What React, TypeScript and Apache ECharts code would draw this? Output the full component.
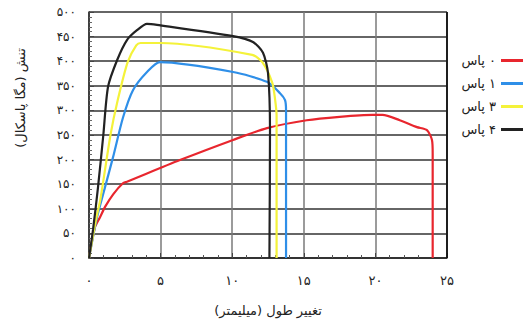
import React, { useEffect, useRef } from "react";
import * as echarts from "echarts";

const seriesNames = ["۰ پاس", "۱ پاس", "۳ پاس", "۴ پاس"];
const seriesColors = ["#e8262e", "#2f8fe8", "#f4f23a", "#222222"];

const pass0X = [0, 0.42, 0.77, 1.12, 1.7, 2.37, 2.65, 6.35, 10.06, 12.43, 15.2, 17.5, 19.8, 20.5, 21.7, 22.9, 23.6, 23.95, 24.0, 24.0];
const pass0Y = [0, 63, 83, 104, 130, 152, 155, 199, 240, 264, 280, 287, 291, 291, 280, 266, 260, 240, 213, 0];

const pass1X = [0, 0.56, 1.12, 1.68, 2.37, 3.07, 4.05, 4.96, 10.06, 12.43, 13.34, 13.69, 13.76, 13.76];
const pass1Y = [0, 83, 144, 205, 285, 341, 378, 398, 378, 358, 335, 321, 300, 0];

const pass3X = [0, 0.5, 0.8, 1.5, 2.0, 2.7, 3.3, 3.6, 5.0, 11.4, 12.1, 12.8, 13.0, 13.1, 13.1];
const pass3Y = [0, 80, 120, 250, 320, 398, 432, 437, 437, 413, 398, 356, 321, 290, 0];

const pass4X = [0, 0.28, 0.63, 1.0, 1.33, 1.96, 2.65, 3.35, 4.05, 4.75, 10.06, 11.45, 12.15, 12.5, 12.64, 12.6];
const pass4Y = [0, 57, 144, 250, 348, 402, 443, 463, 476, 474, 451, 439, 417, 376, 260, 0];

const xTicks = [0, 5, 10, 15, 20, 25];
const yTicks = [0, 50, 100, 150, 200, 250, 300, 350, 400, 450, 500];

const xAxisTitle = "تغییر طول (میلیمتر)";
const yAxisTitle = "تنش (مگا پاسکال)";

const FA_DIGITS = "۰۱۲۳۴۵۶۷۸۹";
const toFa = (v: number) => String(v).replace(/[0-9]/g, (d) => FA_DIGITS[Number(d)]);
const rtl = (s: string) => "\u200F" + s + "\u200F";

const FONT = "DejaVu Sans";

export default function App() {
  const ref = useRef<HTMLDivElement>(null);
  useEffect(() => {
    if (!ref.current) return;
    const chart = echarts.init(ref.current, null, { renderer: "svg" });
    const xs = [pass0X, pass1X, pass3X, pass4X];
    const ys = [pass0Y, pass1Y, pass3Y, pass4Y];
    const xMax = xTicks[xTicks.length - 1];
    const series: any[] = seriesNames.map((name, i) => ({
      name,
      type: "line",
      data: xs[i].map((x, j) => [x, ys[i][j]]),
      showSymbol: false,
      symbol: "none",
      smooth: 0.25,
      lineStyle: { color: seriesColors[i], width: 2.2 },
      itemStyle: { color: seriesColors[i] },
      z: 3 + i,
    }));
    series[0].markLine = {
      silent: true,
      symbol: "none",
      label: { show: false },
      lineStyle: { color: "#111", width: 1.8, type: "solid" },
      data: [{ xAxis: xMax }],
    };
    chart.setOption({
      animation: false,
      grid: { left: 89, right: 85, top: 12, bottom: 69 },
      legend: {
        orient: "vertical",
        right: 4,
        top: 48,
        align: "right",
        itemWidth: 22,
        itemHeight: 3,
        itemGap: 8,
        icon: "rect",
        data: seriesNames.map((n) => ({ name: n })),
        formatter: (n: string) => rtl(n),
        textStyle: { fontFamily: FONT, fontSize: 13, color: "#222", lineHeight: 15 },
      },
      xAxis: {
        type: "value",
        min: xTicks[0],
        max: xMax,
        interval: 5,
        axisLine: { show: true, lineStyle: { color: "#222", width: 1.5 } },
        axisTick: { show: true, inside: true, length: 5, lineStyle: { color: "#444", width: 1 } },
        minorTick: { show: true, splitNumber: 5, length: 3, lineStyle: { color: "#555", width: 1 } },
        axisLabel: {
          formatter: (v: number) => toFa(v),
          fontFamily: FONT,
          fontSize: 13,
          color: "#222",
          margin: 16,
        },
        splitLine: { show: true, lineStyle: { color: "#7a7a7a", type: "solid", width: 1.5 } },
        name: rtl(xAxisTitle),
        nameLocation: "middle",
        nameGap: 46,
        nameTextStyle: { fontFamily: FONT, fontSize: 13, color: "#222" },
      },
      yAxis: {
        type: "value",
        min: yTicks[0],
        max: yTicks[yTicks.length - 1],
        interval: 50,
        axisLine: { show: true, lineStyle: { color: "#222", width: 1.5 } },
        axisTick: { show: true, inside: true, length: 5, lineStyle: { color: "#444", width: 1 } },
        minorTick: { show: true, splitNumber: 5, length: 3, lineStyle: { color: "#666", width: 1 } },
        axisLabel: {
          formatter: (v: number) => toFa(v),
          fontFamily: FONT,
          fontSize: 12,
          color: "#222",
          margin: 13,
        },
        splitLine: { show: true, lineStyle: { color: "#666666", type: "solid", width: 2 } },
      },
      graphic: [
        {
          type: "text",
          x: 20,
          y: 98,
          rotation: Math.PI / 2,
          style: {
            text: rtl(yAxisTitle),
            fontFamily: FONT,
            fontSize: 13,
            fill: "#222",
            align: "center",
            verticalAlign: "middle",
          },
        },
      ],
      series,
    });
    return () => chart.dispose();
  }, []);
  return <div ref={ref} style={{ width: 532, height: 327, position: "absolute", left: 0, top: 0 }} />;
}
